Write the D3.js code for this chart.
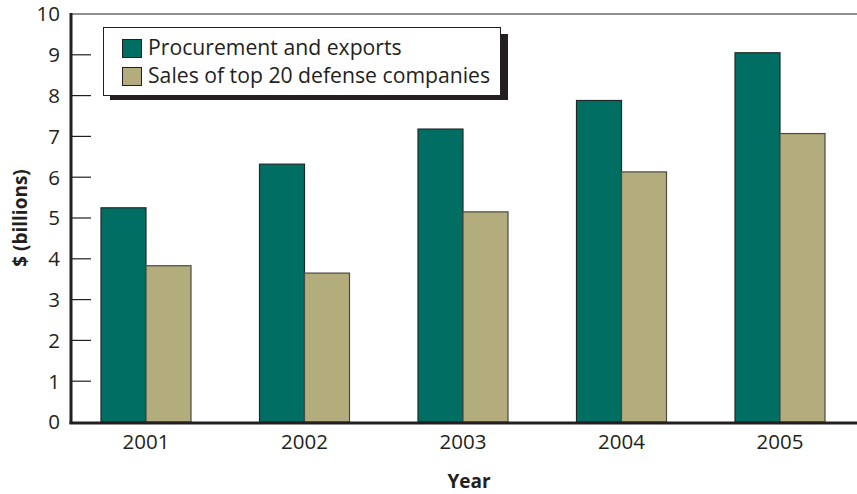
<!DOCTYPE html>
<html><head><meta charset="utf-8">
<script src="https://cdn.jsdelivr.net/npm/d3@7"></script>
<style>body{margin:0;background:#fff}svg{display:block}</style>
</head><body>
<svg id="c" width="857" height="494"></svg>
<script>
const years = ["2001","2002","2003","2004","2005"];
const procurement = [5.25, 6.32, 7.18, 7.88, 9.05];
const sales = [3.83, 3.65, 5.15, 6.13, 7.07];
const seriesNames = ["Procurement and exports","Sales of top 20 defense companies"];
const seriesColors = ["#006e63","#b3ac7c"];
const yTicks = [0,1,2,3,4,5,6,7,8,9,10];

(function(){
const svg = d3.select("#c");
const font = "'Open Sans', 'Noto Sans', sans-serif";
const pLeft = 71, pRight = 857, pTop = 14, pBottom = 422;

const x = d3.scaleBand().domain(years).range([66.75, 859.25]).paddingInner(0).paddingOuter(0);
const xs = d3.scaleBand().domain([0,1]).range([0, 90]);
const y = d3.scaleLinear().domain([0,10]).range([pBottom, pTop]);

svg.append("line").attr("x1", pLeft).attr("x2", pRight).attr("y1", y(10)).attr("y2", y(10))
  .attr("stroke", "#231f20").attr("stroke-width", 1);

svg.append("g").selectAll("line").data(yTicks.filter(d => d>0 && d<10)).join("line")
  .attr("x1", pLeft).attr("x2", pLeft+20).attr("y1", d => y(d)).attr("y2", d => y(d))
  .attr("stroke", "#231f20").attr("stroke-width", 1.2);

svg.append("g").selectAll("text").data(yTicks).join("text")
  .attr("x", 60).attr("y", d => y(d)).attr("dy", "0.36em").attr("text-anchor", "end")
  .attr("font-family", font).attr("font-size", 20.5).attr("fill", "#231f20").text(d => d);

const data = [procurement, sales];
const g = svg.append("g");
years.forEach((yr, i) => {
  [0,1].forEach(s => {
    const v = data[s][i];
    const x0 = x(yr) + x.bandwidth()/2 - 45 + xs(s);
    g.append("rect").attr("x", x0).attr("y", y(v)).attr("width", xs.bandwidth()).attr("height", y(0)-y(v))
      .attr("fill", seriesColors[s]).attr("stroke", s===0 ? "#1e2a28" : "#4a4a44").attr("stroke-width", 1.2);
  });
});

svg.append("line").attr("x1", pLeft).attr("x2", pLeft).attr("y1", y(10)-1).attr("y2", pBottom+2)
  .attr("stroke", "#231f20").attr("stroke-width", 3);
svg.append("line").attr("x1", pLeft-1.5).attr("x2", pRight).attr("y1", pBottom+1).attr("y2", pBottom+1)
  .attr("stroke", "#231f20").attr("stroke-width", 3);

svg.append("g").selectAll("text").data(years).join("text")
  .attr("x", d => x(d)+x.bandwidth()/2).attr("y", 449).attr("text-anchor", "middle")
  .attr("font-family", font).attr("font-size", 20.5).attr("fill", "#231f20").text(d => d);

svg.append("text").attr("x", 469).attr("y", 488).attr("text-anchor", "middle")
  .attr("font-family", font).attr("font-size", 19).attr("font-weight", "bold").attr("fill", "#231f20").text("Year");

svg.append("text").attr("transform", "translate(27,218) rotate(-90)").attr("text-anchor", "middle")
  .attr("font-family", font).attr("font-size", 19).attr("font-weight", "bold").attr("fill", "#231f20").text("$ (billions)");

const lg = svg.append("g");
lg.append("rect").attr("x", 110).attr("y", 34).attr("width", 398).attr("height", 66).attr("fill", "#231f20");
lg.append("rect").attr("x", 103.5).attr("y", 27.5).attr("width", 397).attr("height", 68)
  .attr("fill", "#fff").attr("stroke", "#231f20").attr("stroke-width", 1);
seriesNames.forEach((n, i) => {
  const yy = 39 + i*28;
  lg.append("rect").attr("x", 122.5).attr("y", yy+0.5).attr("width", 19).attr("height", 18)
    .attr("fill", seriesColors[i]).attr("stroke", "#231f20").attr("stroke-width", 1);
  lg.append("text").attr("x", 148).attr("y", yy+16)
    .attr("font-family", font).attr("font-size", 21.2).attr("fill", "#231f20").text(n);
});
})();
</script>
</body></html>
